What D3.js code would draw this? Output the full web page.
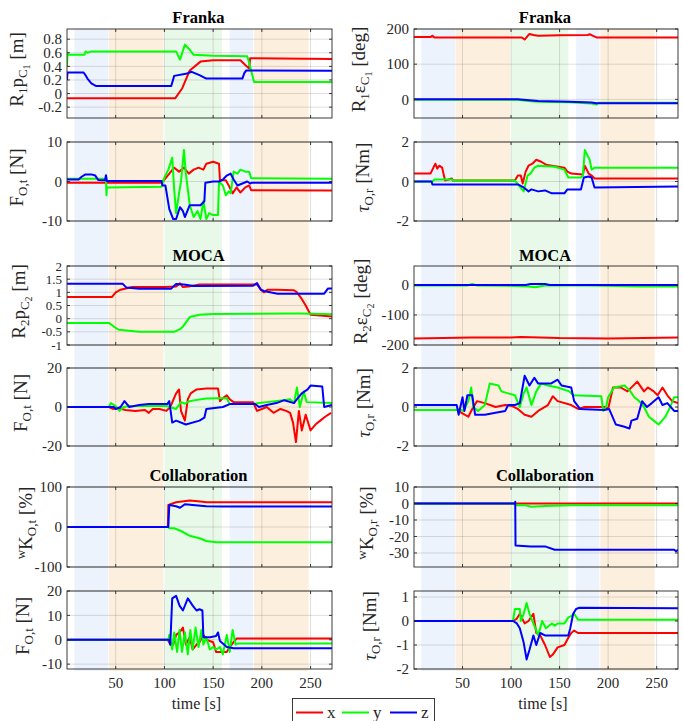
<!DOCTYPE html>
<meta charset="utf-8">
<script src="https://d3js.org/d3.v7.min.js"></script>
<style>
    body { margin: 0; background: #fff; }
    text { font-family: "Liberation Serif", "Times New Roman", serif; fill: #262626; }
</style>
<div id="vis"></div>
<script>
    // time axis
    var tMax = 272;
    var xTicks = [50, 100, 150, 200, 250];

    // task phases (s)
    var bandBlue = [[7.5, 42.5], [167, 191]];
    var bandOrange = [[43, 99], [192, 248]];
    var bandGreen = [[100, 159]];

    // ---- Franka ----
    var frPosX = [[0,-0.07],[111,-0.07],[118,0.07],[126,0.34],[137,0.47],[150,0.49],[178,0.49],[183,0.42],[187,0.37],[188,0.52],[272,0.51]];
    var frPosY = [[0,0.4],[0.5,0.6],[1,0.57],[18,0.57],[19,0.62],[21,0.6],[25,0.62],[112,0.62],[116,0.5],[121,0.72],[125,0.66],[130,0.57],[150,0.555],[185,0.55],[187,0.45],[192,0.17],[272,0.17]];
    var frPosZ = [[0,0.2],[0.5,0.31],[17,0.31],[19,0.27],[21,0.22],[25,0.15],[30,0.11],[107,0.11],[110,0.26],[122,0.29],[128,0.32],[136,0.27],[143,0.22],[180,0.22],[182,0.3],[184,0.34],[272,0.335]];

    var frForceX = [[0,-0.3],[97,-0.3],[100,0.5],[105,2],[110,3.5],[115,2.5],[120,3.5],[125,2],[130,3],[135,3.5],[140,3],[143,4.5],[150,5],[156,4.5],[157,0.3],[163,0.3],[166,-1],[170,-3],[174,-1.5],[178,-2.8],[183,-1.5],[187,-1],[189,-2.2],[272,-2.3]];
    var frForceY = [[0,0.7],[40,0.7],[40.5,-3.5],[41,-1.5],[97,-1.3],[100,1],[104,3],[108,6],[110,-2],[112,-8],[115,-3],[117,0],[120,8],[122,2],[126,-6],[130,-9],[134,-7.5],[137,-9.5],[140,-5],[143,-9.5],[146,-8],[150,-8.5],[155,-8.5],[156,0],[160,-1],[163,-3.5],[166,-2.5],[168,-3],[171,2.5],[175,2],[178,3],[183,2.5],[187,2.5],[189,0.8],[272,0.7]];
    var frForceZ = [[0,0.5],[12,0.5],[15,1.2],[19,1.8],[25,1.8],[29,1.5],[32,0.4],[39,0.3],[40,1.6],[41,0.1],[97,0.1],[98,-1],[101,-1],[105,-7],[109,-9.5],[112,-9.5],[116,-6.5],[119,-7.5],[121,-9],[126,-6],[137,-6],[141,-5],[142,-0.3],[150,0],[156,0],[160,0.5],[164,1.5],[168,2],[171,0.5],[175,-1],[180,-0.5],[185,0],[188,-0.5],[190,-0.3],[272,-0.3]];

    var frOriX = [[0,177],[17,177],[19,181],[21,176],[111,176],[114,170],[117,180],[119,186],[123,183],[128,181],[150,182],[179,183],[181,185],[185,180],[188,176],[272,176]];
    var frOriY = [[0,-1],[107,-1],[115,-4],[128,-7],[159,-8],[183,-12],[188,-15],[190,-10],[272,-10]];
    var frOriZ = [[0,0],[107,0],[128,-5],[162,-7],[183,-9],[188,-11],[272,-11]];

    var frTorqueX = [[0,0.4],[17,0.4],[20,0.7],[22,0.9],[24,0.65],[26,0.8],[29,0.7],[32,0.05],[39,0.15],[40,0.05],[104,0.05],[107,0.3],[110,0.3],[112,-0.1],[115,0.5],[118,0.8],[122,0.9],[126,1.1],[131,1.0],[136,0.85],[142,0.8],[155,0.7],[158,0.5],[162,0.4],[174,0.35],[176,0.8],[180,0.4],[183,0.3],[186,0.15],[272,0.15]];
    var frTorqueY = [[0,0],[19,0],[21,0.1],[39,0.1],[40,0.05],[104,0.05],[108,-0.2],[113,-0.5],[117,0.3],[120,0.4],[124,0.7],[128,0.8],[145,0.75],[155,0.6],[159,0.2],[172,0.2],[174,0.3],[176,1.6],[179,1.3],[181,1.1],[183,0.6],[186,0.7],[272,0.7]];
    var frTorqueZ = [[0,0],[18,0],[19,-0.15],[107,-0.15],[113,-0.3],[118,-0.5],[121,-0.4],[128,-0.5],[135,-0.45],[142,-0.6],[155,-0.6],[158,-0.4],[172,-0.4],[175,0.2],[180,0.25],[183,0.2],[186,-0.3],[272,-0.25]];

    // ---- MOCA ----
    var moPosX = [[0,0.82],[46,0.82],[50,1.0],[55,1.1],[67,1.2],[100,1.2],[112,1.22],[116,1.34],[119,1.2],[125,1.22],[136,1.3],[195,1.3],[199,1.1],[202,1.0],[206,1.1],[215,1.1],[233,1.08],[236,1.0],[240,0.8],[245,0.5],[250,0.15],[272,0.08]];
    var moPosY = [[0,-0.16],[43,-0.16],[48,-0.3],[53,-0.42],[74,-0.5],[110,-0.5],[116,-0.4],[119,-0.3],[126,0.06],[136,0.15],[150,0.18],[230,0.2],[240,0.2],[272,0.17]];
    var moPosZ = [[0,1.33],[57,1.33],[61,1.18],[74,1.14],[107,1.14],[112,1.32],[120,1.3],[130,1.24],[191,1.25],[195,1.35],[199,1.1],[202,1.05],[216,0.95],[264,0.95],[268,1.15],[272,1.15]];

    var moForceX = [[0,0],[43,0],[47,-1],[52,-0.5],[60,-1.5],[70,-2],[80,-1.5],[84,-3],[88,-1],[95,-1],[102,-2],[106,0],[112,7],[115,9],[117,-2],[121,-7],[124,4],[127,7],[133,9],[143,9.5],[155,9.5],[157,3],[161,5],[164,6],[167,4],[171,2.5],[191,2.5],[195,-2],[200,-1],[205,0],[212,-3],[219,-1],[225,-2],[229,-3],[232,-8],[235,-18],[238,-2],[241,-12],[245,-4],[250,-12],[255,-9],[260,-7],[265,-5],[271,-3]];
    var moForceY = [[0,0],[43,0],[45,2],[50,0.5],[54,-2],[58,0],[65,0.5],[102,0.5],[106,0],[112,-1],[117,2.5],[121,1.7],[126,3],[130,3.4],[143,4.3],[155,4.5],[164,4.5],[167,1.5],[191,1.5],[197,2],[205,2.5],[222,3.5],[229,4],[233,2],[236,10],[239,0],[243,8],[246,2.5],[272,2]];
    var moForceZ = [[0,0],[48,0],[50,-1],[55,0],[59,3],[64,0],[74,1],[84,1.5],[103,1.5],[105,3],[108,-8],[112,-7],[122,-9],[136,-7],[141,-5.5],[143,-1],[160,0],[167,1.5],[193,1.5],[197,0],[205,1],[215,2],[223,3.5],[233,2],[236,4],[241,7],[247,9],[250,11],[262,10.5],[264,0],[272,1]];

    var moOriX = [[0,-178],[60,-175],[100,-175],[110,-173],[150,-177],[200,-178],[272,-175]];
    var moOriY = [[0,-2],[55,-2],[60,3],[65,-2],[95,-3],[118,-5],[125,-8],[135,-2],[162,-1],[196,-3],[232,-5],[272,-5]];
    var moOriZ = [[0,0],[115,0],[120,3],[135,3],[140,0],[272,0]];

    var moTorqueX = [[0,-0.15],[44,-0.15],[49,-0.3],[56,-0.5],[60,-0.1],[65,0.3],[73,0.2],[84,0],[94,0.1],[101,0.05],[107,-0.1],[114,-0.4],[121,-0.5],[128,-0.2],[138,0.1],[143,0.55],[148,0.3],[162,0.1],[169,-0.1],[176,0],[196,0],[200,-0.1],[205,1.0],[213,1.0],[220,0.8],[230,1.3],[237,0.8],[241,1.0],[247,0.8],[251,0.6],[256,1.0],[261,0.6],[266,0.3],[272,0.2]];
    var moTorqueY = [[0,-0.15],[44,-0.15],[46,-0.1],[51,-0.2],[56,0.3],[59,1.0],[61,0],[66,-0.2],[73,0.1],[78,1.2],[87,1.1],[90,0.8],[97,0.7],[104,0.6],[109,0],[113,0.7],[116,1.0],[121,0.1],[126,0.8],[131,1.2],[138,1.1],[148,1.0],[160,0.8],[164,0.6],[193,0.55],[195,-0.2],[198,0],[200,0.5],[206,1.0],[217,1.1],[223,0.8],[227,0.5],[232,0.3],[237,0],[242,-0.5],[247,-0.7],[252,-0.9],[259,-0.5],[264,0],[268,0.5],[272,0.5]];
    var moTorqueZ = [[0,0.1],[44,0.1],[46,-0.4],[50,0.5],[52,-0.2],[55,0.6],[60,0.6],[63,-0.4],[73,-0.4],[84,-0.3],[94,-0.2],[97,0.1],[104,0.1],[109,0.2],[114,1.6],[119,1.1],[124,1.5],[128,1.2],[141,1.2],[148,1.4],[152,1.1],[162,1.0],[165,0.3],[171,-0.1],[196,-0.15],[201,-0.1],[208,-0.9],[216,-1.0],[222,-1.1],[224,-0.7],[230,-0.6],[235,0.3],[240,0],[245,0.2],[252,0.5],[256,0.1],[261,0.2],[268,-0.2],[272,-0.2]];

    // ---- Collaboration ----
    var coKtX = [[0,0],[103.5,0],[104,55],[112,62],[126,66],[137,64],[143,62],[272,62]];
    var coKtY = [[0,0],[104,0],[105,-3],[110,-3],[117,-10],[126,-22],[136,-28],[143,-35],[153,-38],[272,-38]];
    var coKtZ = [[0,0],[103.5,0],[104,0],[105,55],[112,52],[116,48],[121,57],[129,55],[143,52],[160,51],[272,51]];

    var coForceX = [[0,0],[103.5,0],[106,-2],[109,-2],[112,2],[115.5,3],[119,5],[122,-2],[126,1],[129,-4],[133,-2],[136,-1],[140,2],[143,0],[150,-1],[153,-5],[164,-5],[167,-3],[171,-1],[174,0.5],[272,0.5]];
    var coForceY = [[0,0],[104,0],[105,2],[108,-4],[110,3],[113,-5],[115.5,4],[118,-5],[121,3],[124,-6],[126.6,4],[129,-4],[132,5],[135,-3],[138,4],[140,-2],[143,1],[146.6,-4],[150,-3],[153,-4],[157,-3],[160,-6],[164,2],[167,-5],[170,4],[173,-2],[175,-1.5],[272,-1.5]];
    var coForceZ = [[0,0],[105,0],[106,-2],[108,17],[112,18],[115.5,14],[119,12],[124,17],[129,14],[133,12],[136,12.5],[139,12],[140,1],[147,1],[153,1.5],[155,3],[157,-0.5],[164,-3],[171,-3.5],[272,-3.5]];

    var coKrX = [[0,0],[272,0]];
    var coKrY = [[0,0],[104,0],[105,-1],[114,-1],[121,-2],[135,-1.5],[162,-1],[272,-1]];
    var coKrZ = [[0,0],[104,0],[104.3,1],[104.6,-25.5],[120,-26],[135,-26],[145,-28],[268,-28],[270,-29],[272,-28]];

    var coTorqueX = [[0,0],[102,0],[106,0.1],[109,0.3],[114,-0.1],[118,0],[123,0.3],[126,-0.5],[130,-0.6],[135,-1.0],[140,-1.5],[143,-1.4],[148,-1.1],[155,-1.0],[159,-0.7],[162,-0.5],[165,-0.4],[169,-0.5],[272,-0.5]];
    var coTorqueY = [[0,0],[102,0],[104,0.5],[109,0.5],[110,0],[113,0.3],[116,0.75],[119,0.3],[125,-0.3],[128,-0.6],[132,0],[136,-0.3],[142,-0.1],[145,-0.2],[148,-0.1],[155,-0.1],[159,0.15],[162,0.2],[165,0.3],[169,0.05],[272,0.05]];
    var coTorqueZ = [[0,0],[102,0],[106,-0.1],[109,-0.3],[113,-0.9],[116,-1.6],[119,-1.2],[123,-0.6],[126,-1.0],[130,-0.5],[135,-0.6],[148,-0.6],[159,-0.6],[161,-0.3],[164,0.3],[167,0.5],[170,0.55],[272,0.53]];

    var seriesNames = ["x", "y", "z"];
    var seriesColors = ["#ff0000", "#00ff00", "#0000ff"];

    // layout
    var cols = [{ l: 67, r: 332 }, { l: 414, r: 678 }];
    var rows = [[29, 118], [142, 221], [266, 345], [368, 446], [487, 567], [591, 669]];
    var groupTitles = [["Franka", 23], ["MOCA", 261], ["Collaboration", 481]];
    // y-label baseline x, per [column][row]
    var labelX = [[23, 23, 25, 27, 32, 29], [365, 369, 367, 370, 373, 376]];

    var lblF = [["F", "n"], ["O,t", "sub"], [" [N]", "n"]];
    var lblTau = [["τ", "it"], ["O,r", "sub"], [" [Nm]", "n"]];

    var panels = [
        { c: 0, r: 0, ylim: [-0.36, 0.95], ticks: [-0.2, 0, 0.2, 0.4, 0.6, 0.8], data: [frPosX, frPosY, frPosZ],
          label: [["R", "n"], ["1", "sub"], ["p", "n"], ["C", "sub"], ["1", "subsub"], [" [m]", "n"]] },
        { c: 0, r: 1, ylim: [-10, 10], ticks: [-10, 0, 10], data: [frForceX, frForceY, frForceZ], label: lblF },
        { c: 1, r: 0, ylim: [-53, 200], ticks: [0, 100, 200], data: [frOriX, frOriY, frOriZ],
          label: [["R", "n"], ["1", "sub"], ["ε", "n"], ["C", "sub"], ["1", "subsub"], [" [deg]", "n"]] },
        { c: 1, r: 1, ylim: [-2, 2], ticks: [-2, 0, 2], data: [frTorqueX, frTorqueY, frTorqueZ], label: lblTau },
        { c: 0, r: 2, ylim: [-1, 2], ticks: [-1, -0.5, 0, 0.5, 1, 1.5, 2], tickSize: 13, data: [moPosX, moPosY, moPosZ],
          label: [["R", "n"], ["2", "sub"], ["p", "n"], ["C", "sub"], ["2", "subsub"], [" [m]", "n"]] },
        { c: 0, r: 3, ylim: [-20, 20], ticks: [-20, 0, 20], data: [moForceX, moForceY, moForceZ], label: lblF },
        { c: 1, r: 2, ylim: [-200, 63], ticks: [-200, -100, 0], data: [moOriX, moOriY, moOriZ],
          label: [["R", "n"], ["2", "sub"], ["ε", "n"], ["C", "sub"], ["2", "subsub"], [" [deg]", "n"]] },
        { c: 1, r: 3, ylim: [-2, 2], ticks: [-2, 0, 2], data: [moTorqueX, moTorqueY, moTorqueZ], label: lblTau },
        { c: 0, r: 4, ylim: [-100, 100], ticks: [-100, 0, 100], data: [coKtX, coKtY, coKtZ],
          label: [["w", "sup"], ["K", "n"], ["O,t", "sub"], [" [%]", "n"]] },
        { c: 0, r: 5, ylim: [-12, 20], ticks: [-10, 0, 10, 20], data: [coForceX, coForceY, coForceZ], label: lblF },
        { c: 1, r: 4, ylim: [-38.5, 10], ticks: [-30, -20, -10, 0, 10], data: [coKrX, coKrY, coKrZ],
          label: [["w", "sup"], ["K", "n"], ["O,r", "sub"], [" [%]", "n"]] },
        { c: 1, r: 5, ylim: [-2, 1.25], ticks: [-2, -1, 0, 1], data: [coTorqueX, coTorqueY, coTorqueZ], label: lblTau }
    ];

    var svg = d3.select("#vis").append("svg")
        .attr("width", 683)
        .attr("height", 721);

    // phase bands, one set per column
    var bandTop = 29, bandBot = 671;
    cols.forEach(function (col) {
        var x = d3.scaleLinear().domain([0, tMax]).range([col.l, col.r]);
        [[bandBlue, "#ecf3fd"], [bandOrange, "#fdefdd"], [bandGreen, "#e9f9e9"]].forEach(function (b) {
            svg.append("g").selectAll("rect").data(b[0]).enter().append("rect")
                .attr("x", function (d) { return x(d[0]); })
                .attr("width", function (d) { return x(d[1]) - x(d[0]); })
                .attr("y", bandTop)
                .attr("height", bandBot - bandTop)
                .attr("fill", b[1]);
        });
    });

    var sizes = { n: 19, it: 19, sub: 13, subsub: 10, sup: 13 };
    var shifts = { n: 0, it: 0, sub: 4, subsub: 7, sup: -7 };

    panels.forEach(function (p, i) {
        var col = cols[p.c], row = rows[p.r];
        var x = d3.scaleLinear().domain([0, tMax]).range([col.l, col.r]);
        var y = d3.scaleLinear().domain(p.ylim).range([row[1], row[0]]);
        var g = svg.append("g");

        svg.append("clipPath").attr("id", "clip" + i)
            .append("rect").attr("x", col.l).attr("y", row[0])
            .attr("width", col.r - col.l).attr("height", row[1] - row[0]);

        // grid
        g.append("g").selectAll("line").data(xTicks).enter().append("line")
            .attr("x1", x).attr("x2", x).attr("y1", row[0]).attr("y2", row[1])
            .attr("stroke", "#000").attr("stroke-opacity", 0.13);
        g.append("g").selectAll("line").data(p.ticks).enter().append("line")
            .attr("y1", y).attr("y2", y).attr("x1", col.l).attr("x2", col.r)
            .attr("stroke", "#000").attr("stroke-opacity", 0.13);

        // series
        var line = d3.line()
            .x(function (d) { return x(d[0]); })
            .y(function (d) { return y(d[1]); });
        g.append("g").attr("clip-path", "url(#clip" + i + ")")
            .selectAll("path").data(p.data).enter().append("path")
            .attr("d", line)
            .attr("fill", "none")
            .attr("stroke", function (d, k) { return seriesColors[k]; })
            .attr("stroke-width", 2)
            .attr("stroke-linejoin", "round");

        // box + inward ticks
        g.append("rect").attr("x", col.l).attr("y", row[0])
            .attr("width", col.r - col.l).attr("height", row[1] - row[0])
            .attr("fill", "none").attr("stroke", "#262626").attr("stroke-width", 0.9);
        var tl = 3;
        g.append("g").selectAll("path").data(xTicks).enter().append("path")
            .attr("d", function (d) {
                return "M" + x(d) + "," + row[1] + "v" + (-tl) + "M" + x(d) + "," + row[0] + "v" + tl;
            })
            .attr("stroke", "#262626").attr("stroke-width", 0.9);
        g.append("g").selectAll("path").data(p.ticks).enter().append("path")
            .attr("d", function (d) {
                return "M" + col.l + "," + y(d) + "h" + tl + "M" + col.r + "," + y(d) + "h" + (-tl);
            })
            .attr("stroke", "#262626").attr("stroke-width", 0.9);

        // y tick labels
        g.append("g").selectAll("text").data(p.ticks).enter().append("text")
            .attr("x", col.l - 5)
            .attr("y", y)
            .attr("dy", "0.35em")
            .attr("text-anchor", "end")
            .style("font-size", (p.tickSize || 15) + "px")
            .text(function (d) { return String(d); });

        // x tick labels on last row only
        if (p.r === 5) {
            g.append("g").selectAll("text").data(xTicks).enter().append("text")
                .attr("x", x).attr("y", 688)
                .attr("text-anchor", "middle")
                .style("font-size", "15px")
                .text(function (d) { return d; });
            g.append("text")
                .attr("x", (col.l + col.r) / 2 - 3).attr("y", 709)
                .attr("text-anchor", "middle")
                .style("font-size", "16px")
                .text("time [s]");
        }

        // y label
        var lx = labelX[p.c][p.r], ly = (row[0] + row[1]) / 2 - 4;
        var lab = g.append("text")
            .attr("transform", "translate(" + lx + "," + ly + ") rotate(-90)")
            .attr("text-anchor", "middle");
        var cur = 0;
        p.label.forEach(function (s) {
            var off = shifts[s[1]];
            lab.append("tspan")
                .attr("dy", off - cur)
                .style("font-size", sizes[s[1]] + "px")
                .style("font-style", s[1] === "it" ? "italic" : null)
                .text(s[0]);
            cur = off;
        });
    });

    // group titles
    cols.forEach(function (col) {
        groupTitles.forEach(function (t) {
            svg.append("text")
                .attr("x", (col.l + col.r) / 2 - 1).attr("y", t[1])
                .attr("text-anchor", "middle")
                .style("font-size", "16.5px").style("font-weight", "bold")
                .style("fill", "#000")
                .text(t[0]);
        });
    });

    // legend
    var leg = svg.append("g");
    leg.append("rect").attr("x", 292.5).attr("y", 698.5).attr("width", 142).attr("height", 30)
        .attr("fill", "#fff").attr("stroke", "#262626").attr("stroke-width", 0.9);
    var legX = [296, 342, 390];
    seriesNames.forEach(function (n, k) {
        leg.append("line").attr("x1", legX[k]).attr("x2", legX[k] + 27)
            .attr("y1", 712.5).attr("y2", 712.5)
            .attr("stroke", seriesColors[k]).attr("stroke-width", 2);
        leg.append("text").attr("x", legX[k] + 31).attr("y", 718)
            .style("font-size", "17px").text(n);
    });
</script>
